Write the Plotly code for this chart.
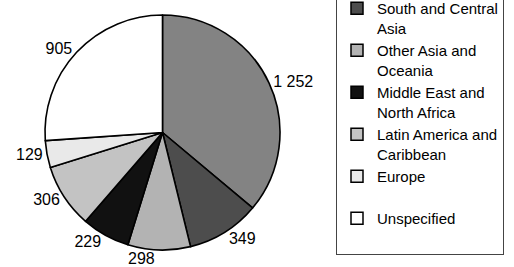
import plotly.graph_objects as go

# Data
regions = [
    "Africa",
    "South and Central<br>Asia",
    "Other Asia and<br>Oceania",
    "Middle East and<br>North Africa",
    "Latin America and<br>Caribbean",
    "Europe<br> ",
    "Unspecified<br> ",
]
values = [1252, 349, 298, 229, 306, 129, 905]
colors = ["#838383", "#4d4d4d", "#b3b3b3", "#111111", "#c3c3c3", "#e9e9e9", "#ffffff"]

W, H = 514, 267
font_family = "Liberation Sans, Arial, sans-serif"

fig = go.Figure()

# Legend-only trace (first region's entry lies outside the visible area in the reference)
fig.add_trace(go.Pie(
    labels=regions[1:],
    values=values[1:],
    marker=dict(colors=colors[1:], line=dict(color="#000000", width=1.5)),
    sort=False,
    direction="clockwise",
    rotation=0,
    textinfo="none",
    hoverinfo="skip",
    domain=dict(x=[0.3155, 0.3167], y=[0.503, 0.5045]),
    showlegend=True,
))

# Main pie
fig.add_trace(go.Pie(
    labels=regions,
    values=values,
    marker=dict(colors=colors, line=dict(color="#000000", width=1.6)),
    sort=False,
    direction="clockwise",
    rotation=0,
    textposition="outside",
    texttemplate="%{value:,}",
    textfont=dict(family=font_family, size=16, color="#000000"),
    domain=dict(x=[45 / W, 280 / W], y=[17 / H, 252 / H]),
    showlegend=False,
))

fig.update_layout(
    width=W,
    height=H,
    margin=dict(l=0, r=0, t=0, b=0, autoexpand=False),
    paper_bgcolor="#ffffff",
    plot_bgcolor="#ffffff",
    separators=". ",
    font=dict(family=font_family, size=15, color="#000000"),
    legend=dict(
        x=336 / W,
        xanchor="left",
        y=12 / H,
        yanchor="bottom",
        bgcolor="#ffffff",
        bordercolor="#444444",
        borderwidth=1,
        valign="top",
        font=dict(family=font_family, size=15, color="#000000"),
        traceorder="normal",
    ),
)

fig.write_html(
    "out.html",
    config={"displayModeBar": False},
    post_script=(
        "document.body.style.margin='0';"
        "document.body.style.overflow='hidden';"
        "document.querySelectorAll('path.textline').forEach(function(e){e.style.display='none';});"
    ),
)
